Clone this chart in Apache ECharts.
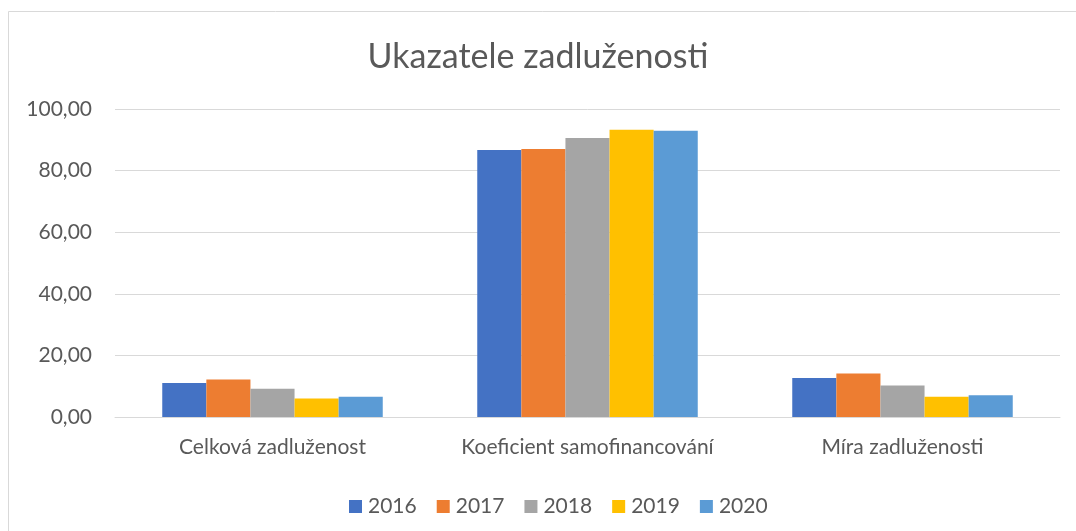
<!DOCTYPE html>
<html>
<head>
<meta charset="utf-8">
<script src="https://cdn.jsdelivr.net/npm/echarts@6/dist/echarts.min.js"></script>
<style>
  html, body { margin: 0; padding: 0; background: #fff; }
  #chart { width: 1076px; height: 531px; }
</style>
</head>
<body>
<div id="chart"></div>
<script>
const categories = ['Celková zadluženost', 'Koeficient samofinancování', 'Míra zadluženosti']
const years = ['2016', '2017', '2018', '2019', '2020']
const values2016 = [11.0, 86.7, 12.7]
const values2017 = [12.2, 87.0, 14.1]
const values2018 = [9.2, 90.6, 10.2]
const values2019 = [6.0, 93.3, 6.6]
const values2020 = [6.6, 92.9, 7.1]
const seriesValues = [values2016, values2017, values2018, values2019, values2020]
const colors = ['#4472C4', '#ED7D31', '#A5A5A5', '#FFC000', '#5B9BD5']

const font = 'Lato, "Open Sans", sans-serif'
const chart = echarts.init(document.getElementById('chart'))

const options = {
  backgroundColor: '#fff',
  animation: false,
  color: colors,
  textStyle: { fontFamily: font },
  title: {
    text: 'Ukazatele zadluženosti',
    left: 'center',
    top: 35,
    textStyle: {
      color: '#595959',
      fontSize: 34,
      fontWeight: 'normal',
      fontFamily: font
    }
  },
  graphic: [{
    type: 'polyline',
    shape: { points: [[8.5, 540], [8.5, 11.5], [1080, 11.5]] },
    style: { stroke: '#d9d9d9', lineWidth: 1, fill: null },
    silent: true
  }],
  grid: {
    left: 115,
    right: 16,
    top: 109,
    bottom: 114
  },
  legend: {
    data: years,
    left: 344,
    top: 491,
    icon: 'rect',
    itemWidth: 13,
    itemHeight: 13,
    itemGap: 20,
    textStyle: {
      color: '#595959',
      fontSize: 21,
      fontFamily: font,
      padding: [0, 0, 0, 1]
    }
  },
  xAxis: [{
    type: 'category',
    data: categories,
    axisLine: { lineStyle: { color: '#d9d9d9', width: 1 } },
    axisTick: { show: false },
    axisLabel: {
      color: '#595959',
      fontSize: 21,
      margin: 20,
      interval: 0
    }
  }],
  yAxis: [{
    type: 'value',
    min: 0,
    max: 100,
    interval: 20,
    axisLine: { show: false },
    axisTick: { show: false },
    splitLine: { lineStyle: { color: '#d9d9d9', width: 1 } },
    axisLabel: {
      color: '#595959',
      fontSize: 21,
      margin: 23,
      formatter: v => v.toFixed(2).replace('.', ',')
    }
  }],
  series: years.map((y, i) => ({
    name: y,
    type: 'bar',
    data: seriesValues[i],
    barGap: '0%',
    barCategoryGap: '30%',
    itemStyle: { color: colors[i] }
  }))
}

chart.setOption(options)
</script>
</body>
</html>
